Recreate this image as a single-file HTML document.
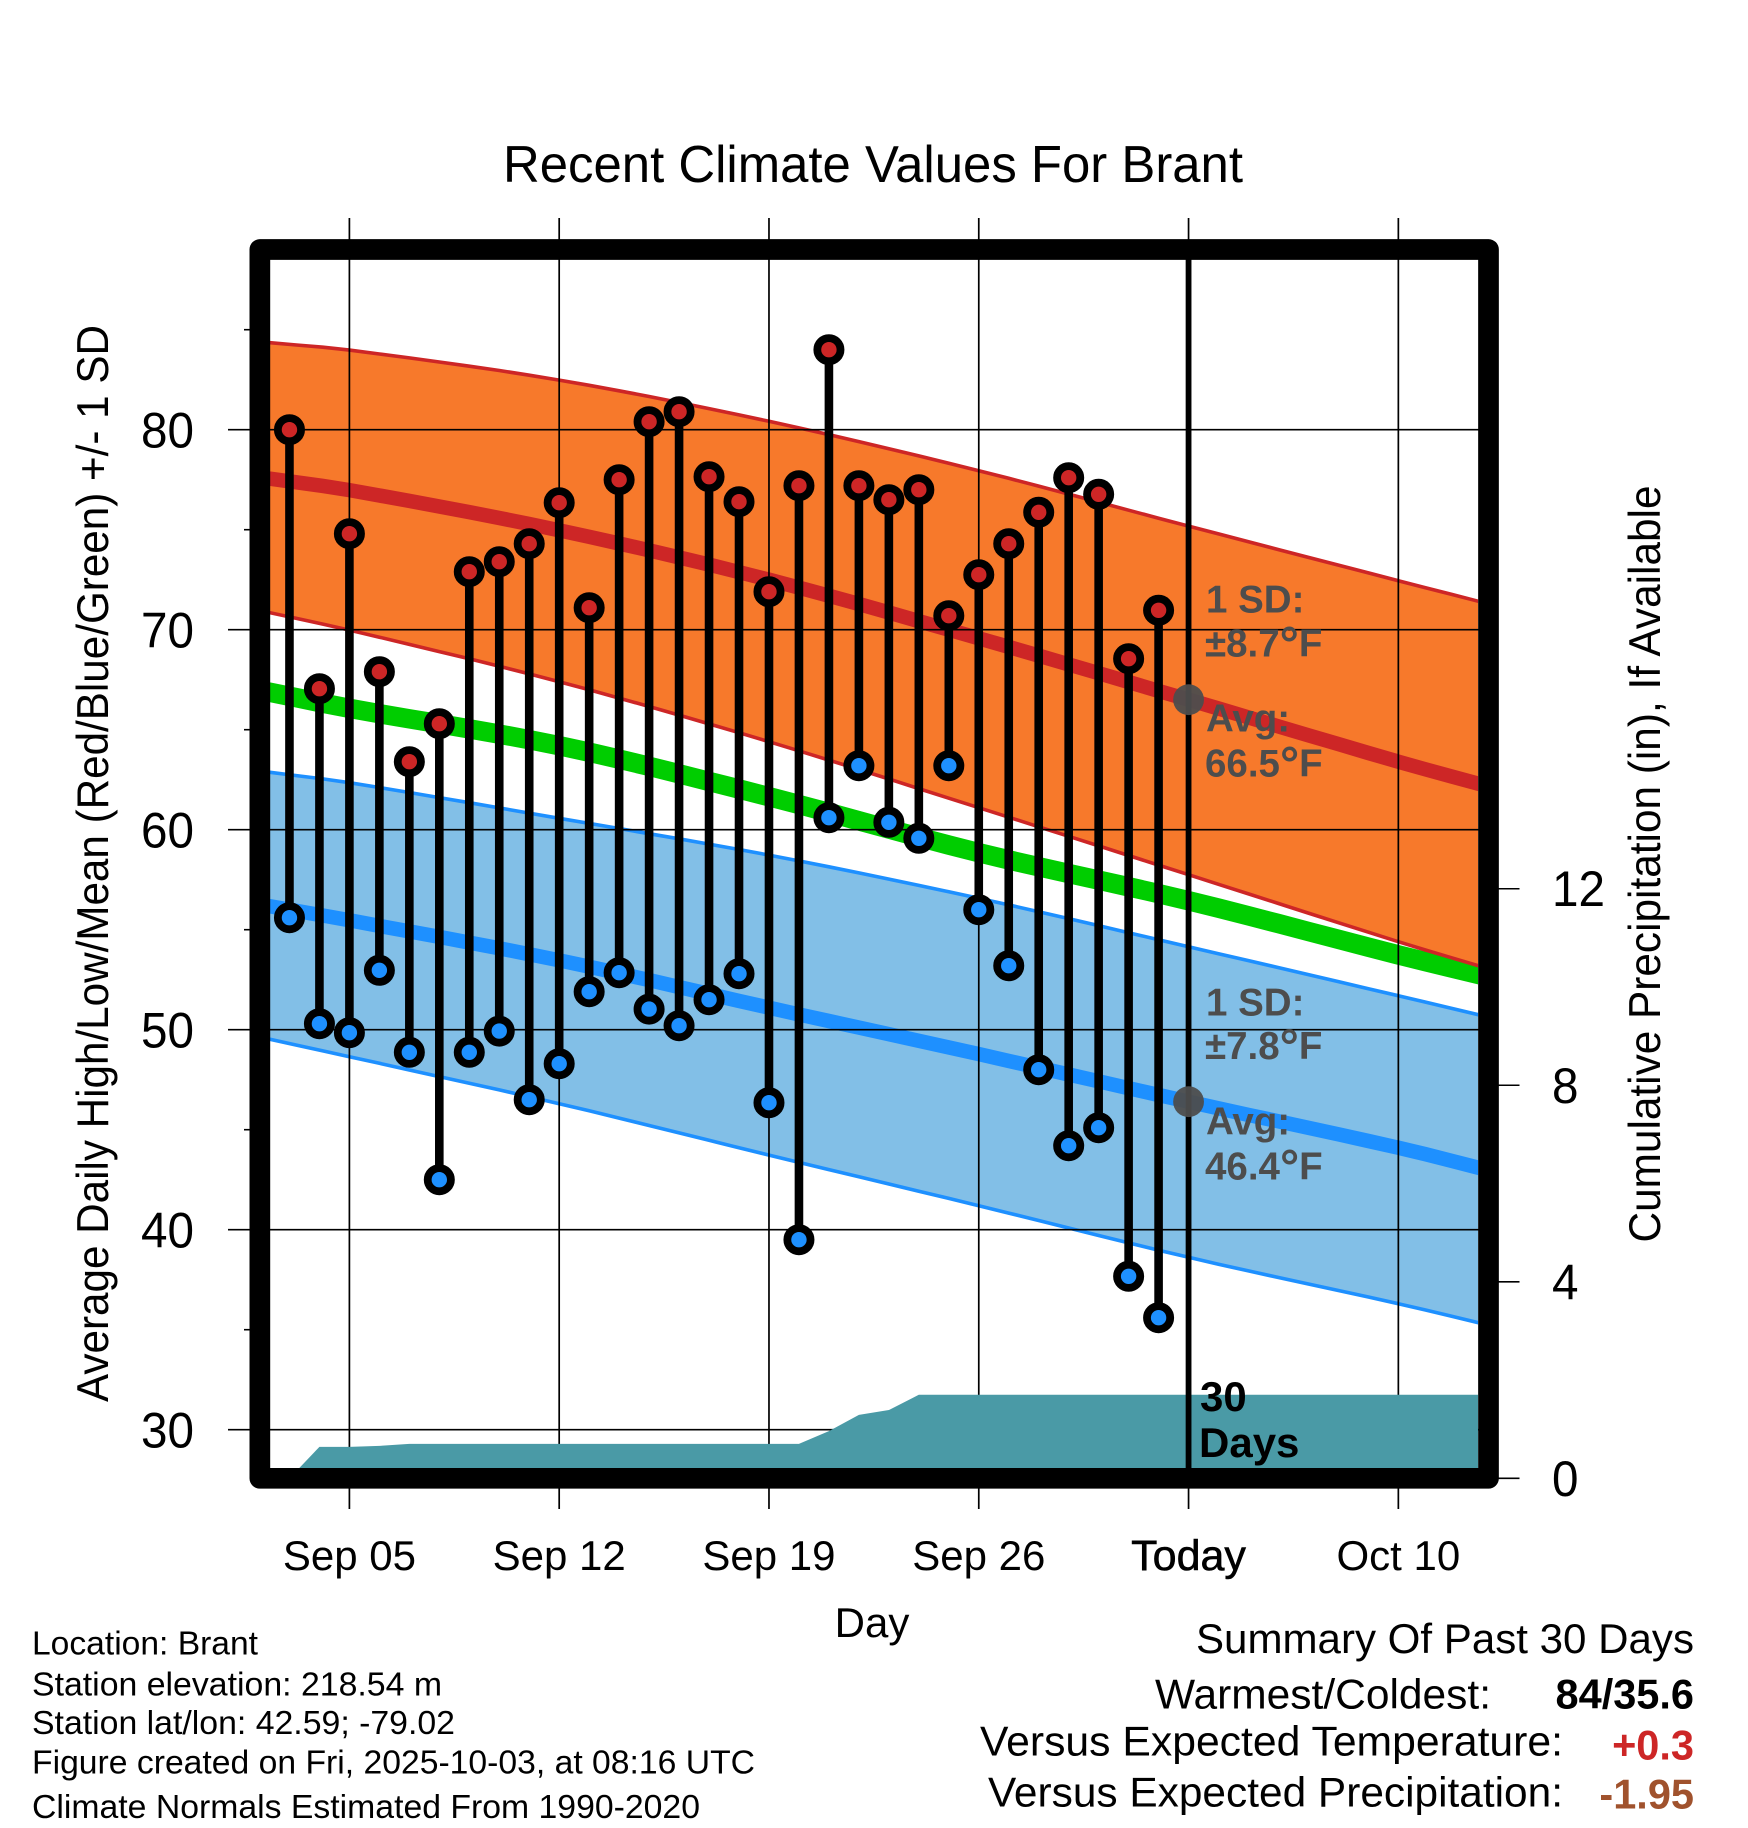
<!DOCTYPE html>
<html lang="en">
<head>
<meta charset="utf-8">
<title>Recent Climate Values For Brant</title>
<style>
html,body{margin:0;padding:0;background:#fff;width:1748px;height:1828px;overflow:hidden}
svg{display:block}
text{font-family:"Liberation Sans",sans-serif;fill:#000}
.ann{font-weight:bold;fill:#4d4d4d;font-size:38.5px}
.foot{font-size:33px}
.sum{font-size:41.5px}
.axis{font-size:43px}
</style>
</head>
<body>
<svg id="chart" xmlns="http://www.w3.org/2000/svg" width="1748" height="1828" viewBox="0 0 1748 1828">
  <defs>
    <clipPath id="plot-clip"><rect x="270" y="260" width="1208" height="1208"/></clipPath>
  </defs>
  <g id="plot" clip-path="url(#plot-clip)"></g>
  <g id="ticks"></g>
  <g id="marks"></g>
  <rect x="259.85" y="249.5" width="1228.65" height="1228.8" rx="0" fill="none" stroke="#000" stroke-width="20.7" stroke-linejoin="round"/>

  <text x="503" y="182" font-size="51.5" textLength="740" lengthAdjust="spacingAndGlyphs">Recent Climate Values For Brant</text>
  <text transform="translate(108,1402) rotate(-90)" font-size="44.5" textLength="1077" lengthAdjust="spacingAndGlyphs">Average Daily High/Low/Mean (Red/Blue/Green) +/- 1 SD</text>
  <text transform="translate(1660,1242.5) rotate(-90)" font-size="44.5" textLength="757" lengthAdjust="spacingAndGlyphs">Cumulative Precipitation (in), If Available</text>
  <text x="872" y="1637" text-anchor="middle" font-size="42">Day</text>

  <text x="1206" y="612.5" class="ann">1 SD:</text>
  <text x="1205" y="656.5" class="ann">±8.7<tspan font-size="48" dy="4">°</tspan><tspan dy="-4">F</tspan></text>
  <text x="1206" y="731.5" class="ann">Avg:</text>
  <text x="1205" y="776.5" class="ann">66.5<tspan font-size="48" dy="4">°</tspan><tspan dy="-4">F</tspan></text>
  <text x="1206" y="1015.5" class="ann">1 SD:</text>
  <text x="1205" y="1059" class="ann">±7.8<tspan font-size="48" dy="4">°</tspan><tspan dy="-4">F</tspan></text>
  <text x="1206" y="1134.5" class="ann">Avg:</text>
  <text x="1205" y="1179.5" class="ann">46.4<tspan font-size="48" dy="4">°</tspan><tspan dy="-4">F</tspan></text>
  <text x="1200" y="1411" font-size="42" font-weight="bold">30</text>
  <text x="1199" y="1457" font-size="42" font-weight="bold">Days</text>

  <text x="32" y="1654.5" class="foot" textLength="226" lengthAdjust="spacingAndGlyphs">Location: Brant</text>
  <text x="32" y="1695.5" class="foot" textLength="410" lengthAdjust="spacingAndGlyphs">Station elevation: 218.54 m</text>
  <text x="32" y="1734" class="foot" textLength="423" lengthAdjust="spacingAndGlyphs">Station lat/lon: 42.59; -79.02</text>
  <text x="32" y="1773.5" class="foot" textLength="723" lengthAdjust="spacingAndGlyphs">Figure created on Fri, 2025-10-03, at 08:16 UTC</text>
  <text x="32" y="1818" class="foot" textLength="668" lengthAdjust="spacingAndGlyphs">Climate Normals Estimated From 1990-2020</text>

  <text x="1196" y="1653" class="sum" textLength="498" lengthAdjust="spacingAndGlyphs">Summary Of Past 30 Days</text>
  <text x="1155" y="1708.5" class="sum" textLength="336" lengthAdjust="spacingAndGlyphs">Warmest/Coldest:</text>
  <text x="1694" y="1708.5" class="sum" text-anchor="end" font-weight="bold">84/35.6</text>
  <text x="980" y="1755.5" class="sum" textLength="583" lengthAdjust="spacingAndGlyphs">Versus Expected Temperature:</text>
  <text x="1694" y="1759.5" class="sum" text-anchor="end" font-weight="bold" style="fill:#cd2626">+0.3</text>
  <text x="988" y="1806.5" class="sum" textLength="575" lengthAdjust="spacingAndGlyphs">Versus Expected Precipitation:</text>
  <text x="1694" y="1808.5" class="sum" text-anchor="end" font-weight="bold" style="fill:#a0522d">-1.95</text>
</svg>
<script>
const dayOffsets = [-2,-1,0,1,2,3,4,5,6,7,8,9,10,11,12,13,14,15,16,17,18,19,20,21,22,23,24,25,26,27];
const dailyHighs = [80,67.05,74.8,67.9,63.4,65.3,72.9,73.4,74.3,76.35,71.1,77.5,80.4,80.9,77.65,76.4,71.9,77.2,84,77.2,76.5,77,70.7,72.75,74.3,75.87,77.6,76.77,68.55,70.97];
const dailyLows = [55.6,50.3,49.85,52.97,48.87,42.5,48.87,49.93,46.5,48.3,51.9,52.85,51.03,50.2,51.5,52.8,46.35,39.5,60.6,63.2,60.37,59.57,63.2,56,53.2,48,44.2,45.1,37.67,35.6];
const dailyPrecip = [0,0.64,0.64,0.66,0.70,0.70,0.70,0.70,0.70,0.70,0.70,0.70,0.70,0.70,0.70,0.70,0.70,0.70,0.96,1.29,1.39,1.70,1.70,1.70,1.70,1.70,1.70,1.70,1.70,1.70];
const normalDays = [-2.65,0,7,14,21,28,35,37.67];
const highUpper = [84.35,83.98,82.48,80.42,77.95,75.18,72.45,71.42];
const highMean = [77.55,76.98,74.97,72.5,69.57,66.5,63.4,62.3];
const highLower = [70.85,69.98,67.4,64.4,61.1,57.75,54.4,53.2];
const greenMean = [66.87,66.07,64.2,61.65,58.85,56.45,53.74,52.76];
const lowUpper = [62.87,62.35,60.57,58.73,56.57,54.15,51.7,50.75];
const lowMean = [56.17,55.47,53.47,51.1,48.78,46.4,44.1,43.1];
const lowLower = [49.52,48.65,46.3,43.73,41.2,38.62,36.3,35.35];
const todayOffset = 28;
const xTickDays = [0,7,14,21,28,35];
const xTickLabels = ["Sep 05","Sep 12","Sep 19","Sep 26","Today","Oct 10"];
const yMajorTicks = [30,40,50,60,70,80];
const yMinorTicks = [35,45,55,65,75,85];
const precipTicks = [0,4,8,12];

const NS = 'http://www.w3.org/2000/svg';
function xScale(d){ return 349.4 + d * 29.97; }
function yScale(v){ return 429.7 + (80 - v) * 20; }
function pScale(p){ return 1478.3 - p * 49.13; }
function make(tag, parent, props){
  const el = document.createElementNS(NS, tag);
  for (const k in props) el.setAttribute(k, props[k]);
  parent.appendChild(el);
  return el;
}
function linePts(vals){
  const out = [];
  const n = normalDays.length;
  function slope(i){
    const a = Math.max(i-1,0), b = Math.min(i+1,n-1);
    return (vals[b]-vals[a])/(normalDays[b]-normalDays[a]);
  }
  for (let i = 0; i < n-1; i++){
    const h = normalDays[i+1]-normalDays[i];
    const steps = Math.max(1, Math.ceil(h));
    const m0 = slope(i), m1 = slope(i+1);
    for (let s = 0; s < steps; s++){
      const t = s/steps;
      const v = (2*t*t*t-3*t*t+1)*vals[i] + (t*t*t-2*t*t+t)*h*m0 + (-2*t*t*t+3*t*t)*vals[i+1] + (t*t*t-t*t)*h*m1;
      out.push(xScale(normalDays[i]+t*h).toFixed(1)+','+yScale(v).toFixed(1));
    }
  }
  out.push(xScale(normalDays[n-1]).toFixed(1)+','+yScale(vals[n-1]).toFixed(1));
  return out;
}

const plot = document.getElementById('plot');
const ticks = document.getElementById('ticks');
const marks = document.getElementById('marks');

const highBand = make('polygon', plot, {points: linePts(highUpper).concat(linePts(highLower).reverse()).join(' '), fill:'#f7792b'});


const lowBand = make('polygon', plot, {points: linePts(lowUpper).concat(linePts(lowLower).reverse()).join(' '), fill:'#82bfe7'});



const greenLine = make('polyline', plot, {points: linePts(greenMean).join(' '), fill:'none', stroke:'#00cd00', 'stroke-width':'19.5', 'stroke-linecap':'square'});


const highUpperLine = make('polyline', plot, {points: linePts(highUpper).join(' '), fill:'none', stroke:'#cd2626', 'stroke-width':'3.6', 'stroke-linecap':'square'});


const highLowerLine = make('polyline', plot, {points: linePts(highLower).join(' '), fill:'none', stroke:'#cd2626', 'stroke-width':'3.6', 'stroke-linecap':'square'});


const highMeanLine = make('polyline', plot, {points: linePts(highMean).join(' '), fill:'none', stroke:'#cd2626', 'stroke-width':'14.5', 'stroke-linecap':'square'});


const lowUpperLine = make('polyline', plot, {points: linePts(lowUpper).join(' '), fill:'none', stroke:'#1e90ff', 'stroke-width':'3.6', 'stroke-linecap':'square'});


const lowLowerLine = make('polyline', plot, {points: linePts(lowLower).join(' '), fill:'none', stroke:'#1e90ff', 'stroke-width':'3.6', 'stroke-linecap':'square'});


const lowMeanLine = make('polyline', plot, {points: linePts(lowMean).join(' '), fill:'none', stroke:'#1e90ff', 'stroke-width':'14.5', 'stroke-linecap':'square'});



yMajorTicks.forEach(function(v){
  const g = make('line', ticks, {x1:228, x2:1480, y1:yScale(v), y2:yScale(v), stroke:'#000', 'stroke-width':'1.6'});
  
  
  const t = make('text', ticks, {x:141, y:yScale(v)+18, 'font-size':'50', textLength:'53', lengthAdjust:'spacingAndGlyphs'});
  t.textContent = String(v);
  
  
});
yMinorTicks.forEach(function(v){
  const m = make('line', ticks, {x1:244, x2:252, y1:yScale(v), y2:yScale(v), stroke:'#000', 'stroke-width':'1.6'});
  
  
});
xTickDays.forEach(function(d,i){
  const g = make('line', ticks, {x1:xScale(d), x2:xScale(d), y1:218, y2:1509, stroke:'#000', 'stroke-width':'1.7'});
  
  
  const t = make('text', ticks, {x:xScale(d), y:1570, 'text-anchor':'middle', 'font-size':xTickLabels[i] === 'Today' ? '43' : '42'});
  if (xTickLabels[i] === 'Today') { t.setAttribute('stroke', '#000'); t.setAttribute('stroke-width', '0.6'); }
  t.textContent = xTickLabels[i];
  
  
});
precipTicks.forEach(function(p){
  const m = make('line', ticks, {x1:1497, x2:1519.5, y1:pScale(p), y2:pScale(p), stroke:'#000', 'stroke-width':'1.6'});
  
  
  const label = String(p);
  const t = make('text', ticks, {x:1552, y:pScale(p)+17.5, 'font-size':'50', textLength:String(label.length * 26.5), lengthAdjust:'spacingAndGlyphs'});
  t.textContent = label;
  
  
});

const precipPts = [];
dayOffsets.forEach(function(d,i){ precipPts.push(xScale(d).toFixed(1)+','+pScale(dailyPrecip[i]).toFixed(1)); });
const lastPrecip = dailyPrecip[dailyPrecip.length-1];
precipPts.push('1500,'+pScale(lastPrecip).toFixed(1));
precipPts.push('1500,'+pScale(0).toFixed(1));
precipPts.push(xScale(dayOffsets[0]).toFixed(1)+','+pScale(0).toFixed(1));
const precipArea = make('polygon', marks, {points: precipPts.join(' '), fill:'#4a9aa6', 'clip-path':'url(#plot-clip)'});



const todayLine = make('line', marks, {x1:xScale(todayOffset), x2:xScale(todayOffset), y1:255, y2:1470, stroke:'#000', 'stroke-width':'5.8'});



dayOffsets.forEach(function(d,i){
  const s = make('line', marks, {x1:xScale(d), x2:xScale(d), y1:yScale(dailyHighs[i]), y2:yScale(dailyLows[i]), stroke:'#000', 'stroke-width':'8.6'});
  
  
});
dayOffsets.forEach(function(d,i){
  const lo = make('circle', marks, {cx:xScale(d), cy:yScale(dailyLows[i]), r:'11.6', fill:'#1e90ff', stroke:'#000', 'stroke-width':'7.8'});
  
  
  const hi = make('circle', marks, {cx:xScale(d), cy:yScale(dailyHighs[i]), r:'11.6', fill:'#cd2626', stroke:'#000', 'stroke-width':'7.8'});
  
  
});

const todayIndex = normalDays.indexOf(todayOffset);
const highDot = make('circle', marks, {cx:xScale(todayOffset), cy:yScale(highMean[todayIndex]), r:'15.4', fill:'#4d4d4d', opacity:'0.95'});


const lowDot = make('circle', marks, {cx:xScale(todayOffset), cy:yScale(lowMean[todayIndex]), r:'15.4', fill:'#4d4d4d', opacity:'0.95'});


</script>
</body>
</html>
